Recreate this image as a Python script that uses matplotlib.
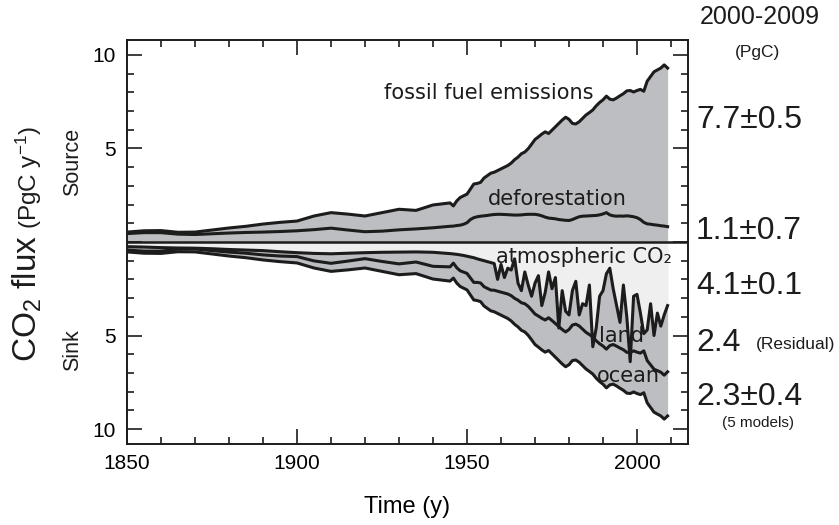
import matplotlib
matplotlib.use("Agg")
import matplotlib.pyplot as plt
import numpy as np
from matplotlib import font_manager
from matplotlib.ticker import MultipleLocator, FixedLocator, FixedFormatter

# condensed sans if available, otherwise the regular one (sizes scaled to keep widths)
_names = {f.name for f in font_manager.fontManager.ttflist}
if "Liberation Sans Narrow" in _names:
    SANS, K = "Liberation Sans Narrow", 1.2
else:
    SANS, K = "Liberation Sans", 1.0

plt.rcParams["font.family"] = [SANS, "DejaVu Sans"]
plt.rcParams["mathtext.fontset"] = "custom"
plt.rcParams["mathtext.rm"] = SANS
plt.rcParams["mathtext.it"] = SANS + ":italic"
plt.rcParams["mathtext.default"] = "regular"

# ---------------------------------------------------------------- data (PgC/yr)
# five-yearly until 1945, annual afterwards
years = list(range(1850, 1946, 5)) + list(range(1946, 2010))

fossil_fuel = [
    0.08, 0.10, 0.11, 0.10, 0.13, 0.20, 0.27, 0.33, 0.43, 0.49,
    0.52, 0.73, 0.83, 0.85, 0.84, 0.99, 1.10, 0.99, 1.22, 1.25,
    1.08, 1.32, 1.48, 1.52, 1.53, 1.63, 1.80, 1.78, 1.81, 2.02,
    2.13, 2.23, 2.26, 2.34, 2.43, 2.53, 2.63, 2.77, 2.96, 3.10,
    3.27, 3.34, 3.51, 3.75, 4.00, 4.17, 4.37, 4.56, 4.52, 4.72,
    4.92, 5.14, 5.34, 5.51, 5.41, 5.14, 5.03, 5.08, 5.23, 5.40,
    5.52, 5.65, 5.86, 6.01, 6.10, 6.23, 6.19, 6.20, 6.32, 6.43,
    6.55, 6.68, 6.72, 6.67, 6.80, 6.96, 7.01, 7.63, 7.90, 8.18,
    8.30, 8.43, 8.62, 8.48,
]

deforestation = [
    0.45, 0.50, 0.50, 0.42, 0.40, 0.44, 0.48, 0.51, 0.53, 0.56,
    0.60, 0.66, 0.74, 0.64, 0.55, 0.58, 0.65, 0.70, 0.76, 0.84,
    0.85, 0.88, 0.90, 0.95, 1.03, 1.20, 1.30, 1.35, 1.38, 1.40,
    1.42, 1.45, 1.47, 1.48, 1.48, 1.47, 1.46, 1.45, 1.44, 1.44,
    1.45, 1.47, 1.48, 1.48, 1.48, 1.45, 1.40, 1.33, 1.28, 1.26,
    1.24, 1.20, 1.18, 1.16, 1.15, 1.20, 1.28, 1.35, 1.38, 1.39,
    1.40, 1.41, 1.42, 1.45, 1.50, 1.57, 1.45, 1.40, 1.38, 1.39,
    1.38, 1.40, 1.38, 1.35, 1.30, 1.20, 1.05, 0.97, 0.95, 0.92,
    0.90, 0.87, 0.85, 0.82,
]

atmospheric_co2 = [
    0.25, 0.27, 0.30, 0.32, 0.33, 0.36, 0.40, 0.43, 0.46, 0.52,
    0.57, 0.61, 0.63, 0.60, 0.57, 0.55, 0.54, 0.53, 0.55, 0.62,
    0.64, 0.66, 0.69, 0.72, 0.76, 0.80, 0.84, 0.90, 0.95, 1.00,
    1.05, 1.10, 1.15, 2.00, 1.20, 1.90, 1.40, 1.50, 0.90, 2.20,
    2.60, 1.60, 2.30, 2.90, 2.20, 1.80, 3.40, 2.70, 1.60, 2.50,
    1.90, 4.60, 2.60, 3.70, 3.90, 2.60, 2.10, 3.90, 3.30, 3.40,
    2.30, 5.60, 4.60, 2.90, 2.60, 1.70, 1.40, 2.50, 3.40, 4.30,
    2.30, 4.00, 6.40, 2.90, 2.80, 3.80, 4.90, 4.70, 3.30, 5.00,
    3.80, 4.50, 3.90, 3.40,
]

ocean_sink = [
    0.10, 0.11, 0.12, 0.14, 0.16, 0.18, 0.21, 0.24, 0.27, 0.30,
    0.34, 0.38, 0.43, 0.47, 0.50, 0.53, 0.58, 0.62, 0.68, 0.76,
    0.80, 0.82, 0.84, 0.86, 0.88, 0.91, 0.94, 0.97, 1.00, 1.03,
    1.07, 1.11, 1.15, 1.19, 1.23, 1.27, 1.31, 1.35, 1.39, 1.43,
    1.47, 1.51, 1.55, 1.59, 1.63, 1.66, 1.69, 1.72, 1.75, 1.78,
    1.80, 1.82, 1.84, 1.86, 1.88, 1.90, 1.92, 1.94, 1.95, 1.96,
    1.97, 1.98, 2.00, 2.02, 2.04, 2.07, 2.10, 2.12, 2.13, 2.15,
    2.17, 2.18, 2.19, 2.20, 2.21, 2.22, 2.24, 2.26, 2.28, 2.30,
    2.32, 2.34, 2.35, 2.36,
]

yticks = [-10, -5, 0, 5, 10]
ytick_labels = ["10", "5", "", "5", "10"]
xticks = [1850, 1900, 1950, 2000]

# 2000-2009 budget summary
summary_values = ["7.7\u00b10.5", "1.1\u00b10.7", "4.1\u00b10.1", "2.4", "2.3\u00b10.4"]

# ---------------------------------------------------------------- derived
yr = np.array(years, dtype=float)
ff = np.array(fossil_fuel)
lu = np.array(deforestation)
atm = np.array(atmospheric_co2)
ocn = np.array(ocean_sink)
sources = ff + lu
land_sink = sources - atm - ocn          # residual land sink

W, H = 839, 525
GRAY = "#bdbec2"
LIGHT = "#efefef"
INK = "#1c1c1c"
LW = 2.2

fig = plt.figure(figsize=(W / 100, H / 100), dpi=100)
ax = fig.add_axes([127 / W, 1 - 444 / H, (688 - 127) / W, (444 - 40) / H])

# sources (up)
ax.fill_between(yr, 0, sources, color=GRAY, lw=0, zorder=1)
# sinks (down)
ax.fill_between(yr, 0, -(atm + land_sink + ocn), color=GRAY, lw=0, zorder=1)
ax.fill_between(yr, 0, -atm, color=LIGHT, lw=0, zorder=2)

ax.plot(yr, sources, color=INK, lw=LW, zorder=4)
ax.plot(yr, lu, color=INK, lw=LW, zorder=4)
ax.plot(yr, -atm, color=INK, lw=LW, zorder=4)
ax.plot(yr, -(atm + land_sink), color=INK, lw=LW, zorder=4)
ax.plot(yr, -(atm + land_sink + ocn), color=INK, lw=LW, zorder=4)
ax.axhline(0, color=INK, lw=1.8, zorder=5)

ax.set_xlim(1850, 2015)
ax.set_ylim(-10.8, 10.8)

ax.xaxis.set_major_locator(FixedLocator(xticks))
ax.xaxis.set_minor_locator(MultipleLocator(10))
ax.yaxis.set_major_locator(FixedLocator(yticks))
ax.yaxis.set_major_formatter(FixedFormatter(ytick_labels))
ax.yaxis.set_minor_locator(MultipleLocator(1))
ax.tick_params(which="both", direction="in", top=True, right=True,
               color=INK, width=1.2)
ax.tick_params(which="major", length=10.5)
ax.tick_params(which="minor", length=5)
ax.tick_params(axis="x", which="major", labelsize=15 * K, pad=7)
ax.tick_params(axis="y", which="major", labelsize=15 * K, pad=8)
for s in ax.spines.values():
    s.set_color(INK)
    s.set_linewidth(1.4)

ax.set_xlabel("Time (y)", fontsize=17 * K, labelpad=17)

# labels inside the plot
hand = dict(family="DejaVu Sans", fontsize=15, color=INK, zorder=6)
ax.text(1956.3, 7.95, "fossil fuel emissions", ha="center", va="center", **hand)
ax.text(1976.5, 2.3, "deforestation", ha="center", va="center", **hand)
ax.text(1984.4, -0.78, "atmospheric CO\u2082", ha="center", va="center", **hand)
ax.text(1995.3, -5.0, "land", ha="center", va="center", **hand)
ax.text(1997.5, -7.15, "ocean", ha="center", va="center", **hand)

# Source / Sink
ytr = ax.get_yaxis_transform()
ax.text(-54 / (688 - 127), 4.3, "Source", rotation=90, ha="center", va="center",
        fontsize=15.5 * K, transform=ytr, color=INK)
ax.text(-54 / (688 - 127), -5.8, "Sink", rotation=90, ha="center", va="center",
        fontsize=15.5 * K, transform=ytr, color=INK)

# y axis title in two sizes
t1 = fig.text(37 / W, 1 - 362 / H, r"CO$_2$ flux", rotation=90, rotation_mode="anchor",
              ha="left", va="baseline", fontsize=24 * K, color=INK)
fig.canvas.draw()
bb = t1.get_window_extent()
fig.text(37 / W, (bb.y1 + 6) / H, r"(PgC y$^{-1}$)", rotation=90, rotation_mode="anchor",
         ha="left", va="baseline", fontsize=17.5 * K, color=INK)

# right-hand summary column
fig.text(760 / W, 1 - 17 / H, "2000-2009", ha="center", va="center", fontsize=18 * K, color=INK)
fig.text(757 / W, 1 - 53 / H, "(PgC)", ha="center", va="center", fontsize=12.5 * K, color=INK)
rows = [120, 231, 286, 343, 397]
for val, py in zip(summary_values, rows):
    fig.text(696 / W, 1 - py / H, val, ha="left", va="center", fontsize=23 * K, color=INK)
fig.text(756 / W, 1 - 345 / H, "(Residual)", ha="left", va="center", fontsize=12.5 * K, color=INK)
fig.text(758 / W, 1 - 423 / H, "(5 models)", ha="center", va="center", fontsize=11 * K, color=INK)

fig.savefig("out.png", dpi=100)
